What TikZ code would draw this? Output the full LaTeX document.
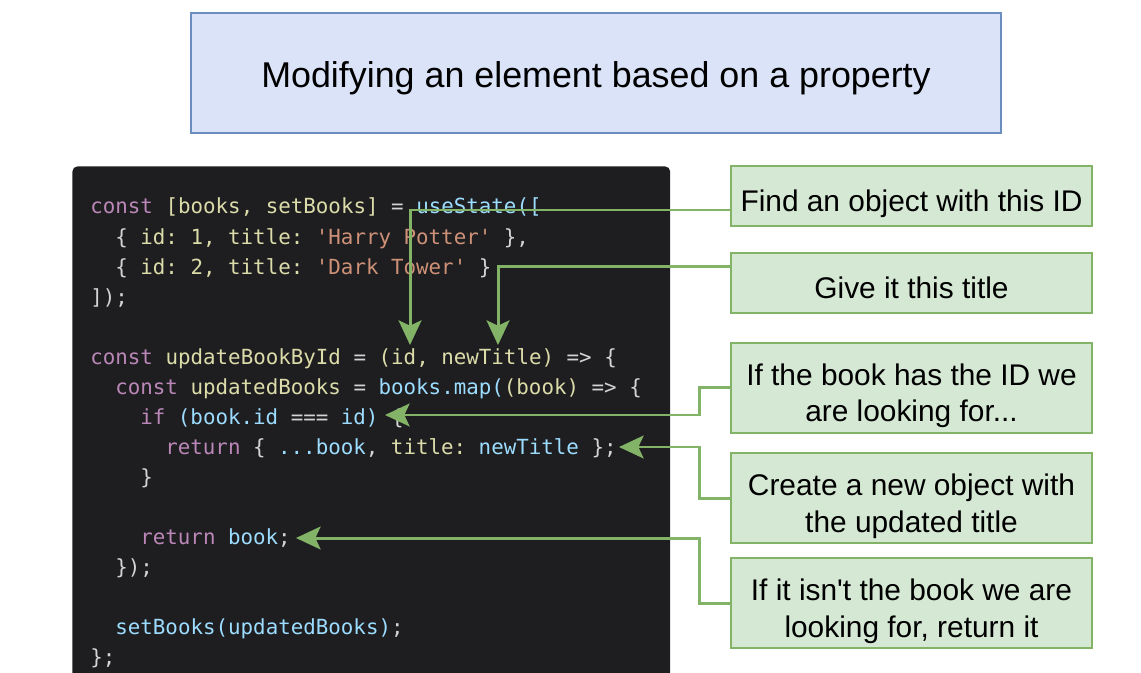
\documentclass[tikz,border=0pt]{standalone}
\usepackage{fontspec}
\setmainfont{Liberation Sans}
\setmonofont{DejaVu Sans Mono}
\usepackage{tikz}
\usetikzlibrary{arrows.meta,positioning}
\definecolor{titlefill}{HTML}{DAE3F8}
\definecolor{titleline}{HTML}{6C8EBF}
\definecolor{notefill}{HTML}{D5E8D4}
\definecolor{noteline}{HTML}{82B366}
\definecolor{editor}{HTML}{1E1E20}
\definecolor{kw}{HTML}{BB87B8}
\definecolor{nm}{HTML}{DCDCAA}
\definecolor{str}{HTML}{CE9178}
\definecolor{var}{HTML}{9CDCFE}
\definecolor{punct}{HTML}{D4D4D4}
\newcommand{\cKw}[1]{\textcolor{kw}{#1}}
\newcommand{\cNm}[1]{\textcolor{nm}{#1}}
\newcommand{\cStr}[1]{\textcolor{str}{#1}}
\newcommand{\cVar}[1]{\textcolor{var}{#1}}

\begin{document}
\begin{tikzpicture}[
  x=0.02cm, y=-0.02cm,
  header/.style={draw=titleline, line width=1.2pt, fill=titlefill,
                 minimum width=16.2cm, minimum height=2.4cm,
                 text height=0.6cm, text depth=0pt,
                 font=\fontsize{20.4}{24}\selectfont},
  note/.style={draw=noteline, line width=1.5pt, fill=notefill, align=center,
               minimum width=7.22cm, minimum height=1.2cm, inner sep=2pt,
               text height=0.62cm, text depth=0pt,
               font=\fontsize{17}{20.6}\selectfont},
  tall/.style={minimum height=1.8cm, text height=1.36cm},
  codeline/.style={anchor=base west, inner sep=0pt, text=punct,
                   font=\fontsize{11.85}{17}\selectfont\ttfamily},
  link/.style={-{Stealth[length=14pt, width=13pt, inset=3pt]}, draw=noteline,
               line width=1.7pt}
]
\useasboundingbox (0,0) rectangle (1141,672);

% Title
\node[header] (title) at (596,73) {Modifying an element based on a property};

% Editor pane with the code
\node[fill=editor, rounded corners=3pt, minimum width=11.96cm, minimum height=10.8cm,
      anchor=north west, inner sep=0pt] (code) at (72,166) {};
\node[codeline] (l1) at (90,214) {\cKw{const} \cNm{[books, setBooks]} = \cVar{useState([}};
\node[codeline] (l2) at (115,244) {\{ \cNm{id: 1, title:} \cStr{'Harry Potter'} \},};
\node[codeline] (l3) at (115,274) {\{ \cNm{id: 2, title:} \cStr{'Dark Tower'} \}};
\node[codeline] (l4) at (90,304) {]);};
\node[codeline] (l5) at (90,364) {\cKw{const} \cNm{updateBookById} = \cNm{(id, newTitle)} => \{};
\node[codeline] (l6) at (115,394) {\cKw{const} \cNm{updatedBooks} = \cVar{books.map(}\cNm{(book)} => \{};
\node[codeline] (l7) at (140,424) {\cKw{if} \cVar{(book.id} === \cVar{id)} \{};
\node[codeline] (l8) at (165,454) {\cKw{return} \{ \cVar{...book}, \cNm{title:} \cVar{newTitle} \};};
\node[codeline] (l9) at (140,484) {\}};
\node[codeline] (l10) at (140,544) {\cKw{return} \cVar{book};};
\node[codeline] (l11) at (115,574) {\});};
\node[codeline] (l12) at (115,634) {\cVar{setBooks(updatedBooks)};};
\node[codeline] (l13) at (90,664) {\};};

% Notes on the right
\node[note] (find) at (911.5,196) {Find an object with this ID};
\node[note, below=0.487cm of find] (give) {Give it this title};
\node[note, tall, below=0.547cm of give] (ifid) {If the book has the ID we\\are looking for...};
\node[note, tall, below=0.35cm of ifid] (create) {Create a new object with\\the updated title};
\node[note, tall, below=0.247cm of create] (notit) {If it isn\textquotesingle t the book we are\\looking for, return it};

% Arrow tips in the code
\coordinate (tipId) at (410,345);
\coordinate (tipTitle) at (498,345);
\coordinate (tipIf) at (385,415);
\coordinate (tipObj) at (619,447);
\coordinate (tipBook) at (296,538);

\draw[link] ([yshift=-0.28cm]find.west) -| (tipId);
\draw[link] ([yshift=0.32cm]give.west) -| (tipTitle);
\draw[link] (ifid.west) -- ++(-0.6cm,0) |- (tipIf);
\draw[link] (create.west) -- ++(-0.6cm,0) |- (tipObj);
\draw[link] (notit.west) -- ++(-0.6cm,0) |- (tipBook);

\end{tikzpicture}
\end{document}
